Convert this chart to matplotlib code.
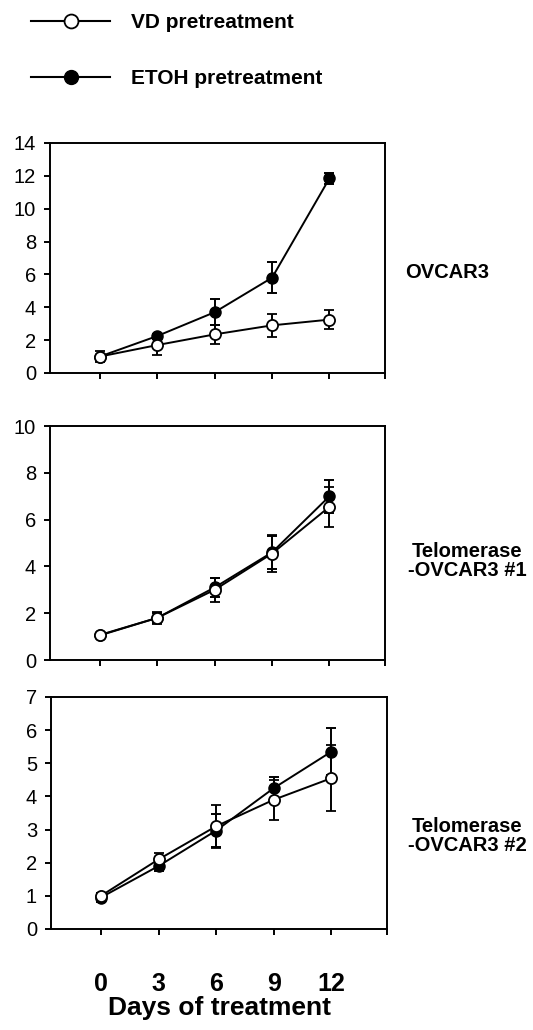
import matplotlib.pyplot as plt
from matplotlib.lines import Line2D

plt.rcParams['font.family'] = ['Liberation Sans', 'DejaVu Sans']

days = [0, 3, 6, 9, 12]

# OVCAR3
ovcar_vd = [1.0, 1.7, 2.35, 2.9, 3.25]
ovcar_vd_err = [0.35, 0.6, 0.6, 0.7, 0.6]
ovcar_etoh = [1.0, 2.25, 3.7, 5.8, 11.85]
ovcar_etoh_err = [0.1, 0.15, 0.8, 0.95, 0.35]

# Telomerase-OVCAR3 #1
tel1_vd = [1.07, 1.8, 3.0, 4.55, 6.55]
tel1_vd_err = [0.1, 0.25, 0.5, 0.8, 0.85]
tel1_etoh = [1.05, 1.8, 3.1, 4.6, 7.0]
tel1_etoh_err = [0.1, 0.2, 0.4, 0.7, 0.7]

# Telomerase-OVCAR3 #2
tel2_vd = [1.0, 2.1, 3.1, 3.9, 4.55]
tel2_vd_err = [0.1, 0.2, 0.65, 0.6, 1.0]
tel2_etoh = [0.95, 1.9, 2.97, 4.25, 5.35]
tel2_etoh_err = [0.15, 0.15, 0.5, 0.35, 0.7]

panel_names = ['OVCAR3', 'Telomerase\n-OVCAR3 #1', 'Telomerase\n-OVCAR3 #2']
y_max = [14, 10, 7]
y_step = [2, 2, 1]

W, H = 533, 1030
fig = plt.figure(figsize=(W / 100, H / 100), dpi=100)


def box(l, t, r, b):
    return [l / W, 1 - b / H, (r - l) / W, (b - t) / H]


# pixel boxes of the three panels (left, top, right, bottom)
boxes = [(50, 143, 385, 373), (50, 426, 385, 660), (51, 697, 387, 929)]
series = [
    (ovcar_vd, ovcar_vd_err, ovcar_etoh, ovcar_etoh_err),
    (tel1_vd, tel1_vd_err, tel1_etoh, tel1_etoh_err),
    (tel2_vd, tel2_vd_err, tel2_etoh, tel2_etoh_err),
]
name_pos = [(405, 273, 'left'), (467, 561, 'center'), (467, 836, 'center')]

x_lo, x_hi = -2.6, 14.9

for i in range(3):
    ax = fig.add_axes(box(*boxes[i]))
    vd, vd_err, et, et_err = series[i]

    # ETOH first so the open VD circles sit on top
    ax.errorbar(days, et, yerr=et_err, color='black', lw=1.4, marker='o',
                ms=8, mfc='black', mec='black', capsize=3.5, elinewidth=1.4,
                capthick=1.4, zorder=3)
    ax.errorbar(days, vd, yerr=vd_err, color='black', lw=1.4, marker='o',
                ms=8, mfc='white', mec='black', mew=1.3, capsize=3.5,
                elinewidth=1.4, capthick=1.4, zorder=4)

    ax.set_xlim(x_lo, x_hi)
    ax.set_ylim(0, y_max[i])
    ax.set_yticks(range(0, y_max[i] + 1, y_step[i]))
    ax.set_xticks(days + [x_hi])

    for s in ax.spines.values():
        s.set_linewidth(1.4)
    ax.tick_params(direction='out', length=4, width=1.4, labelsize=14.5, pad=6)

    if i < 2:
        ax.set_xticklabels([])
    else:
        ax.set_xticklabels([str(d) for d in days] + [''], fontsize=18,
                           fontweight='bold')
        ax.tick_params(axis='x', pad=27)
        ax.set_xlabel('Days of treatment', fontsize=19, fontweight='bold',
                      labelpad=0)

    nx, ny, ha = name_pos[i]
    fig.text(nx / W, 1 - ny / H, panel_names[i], fontsize=14.5,
             fontweight='bold', ha=ha, va='center', multialignment='center',
             linespacing=1.05)

# legend at the top
handles = [
    Line2D([], [], color='black', lw=1.5, marker='o', ms=10, mfc='white',
           mec='black', mew=1.3),
    Line2D([], [], color='black', lw=1.5, marker='o', ms=10, mfc='black',
           mec='black'),
]
fig.legend(handles, ['VD pretreatment', 'ETOH pretreatment'],
           loc='upper left', bbox_to_anchor=(31 / W, 1 - 13 / H),
           frameon=False, borderpad=0, borderaxespad=0, handlelength=3.8,
           handletextpad=1.0, labelspacing=1.8,
           prop={'size': 15, 'weight': 'bold'})

fig.savefig('out.png', dpi=100)
